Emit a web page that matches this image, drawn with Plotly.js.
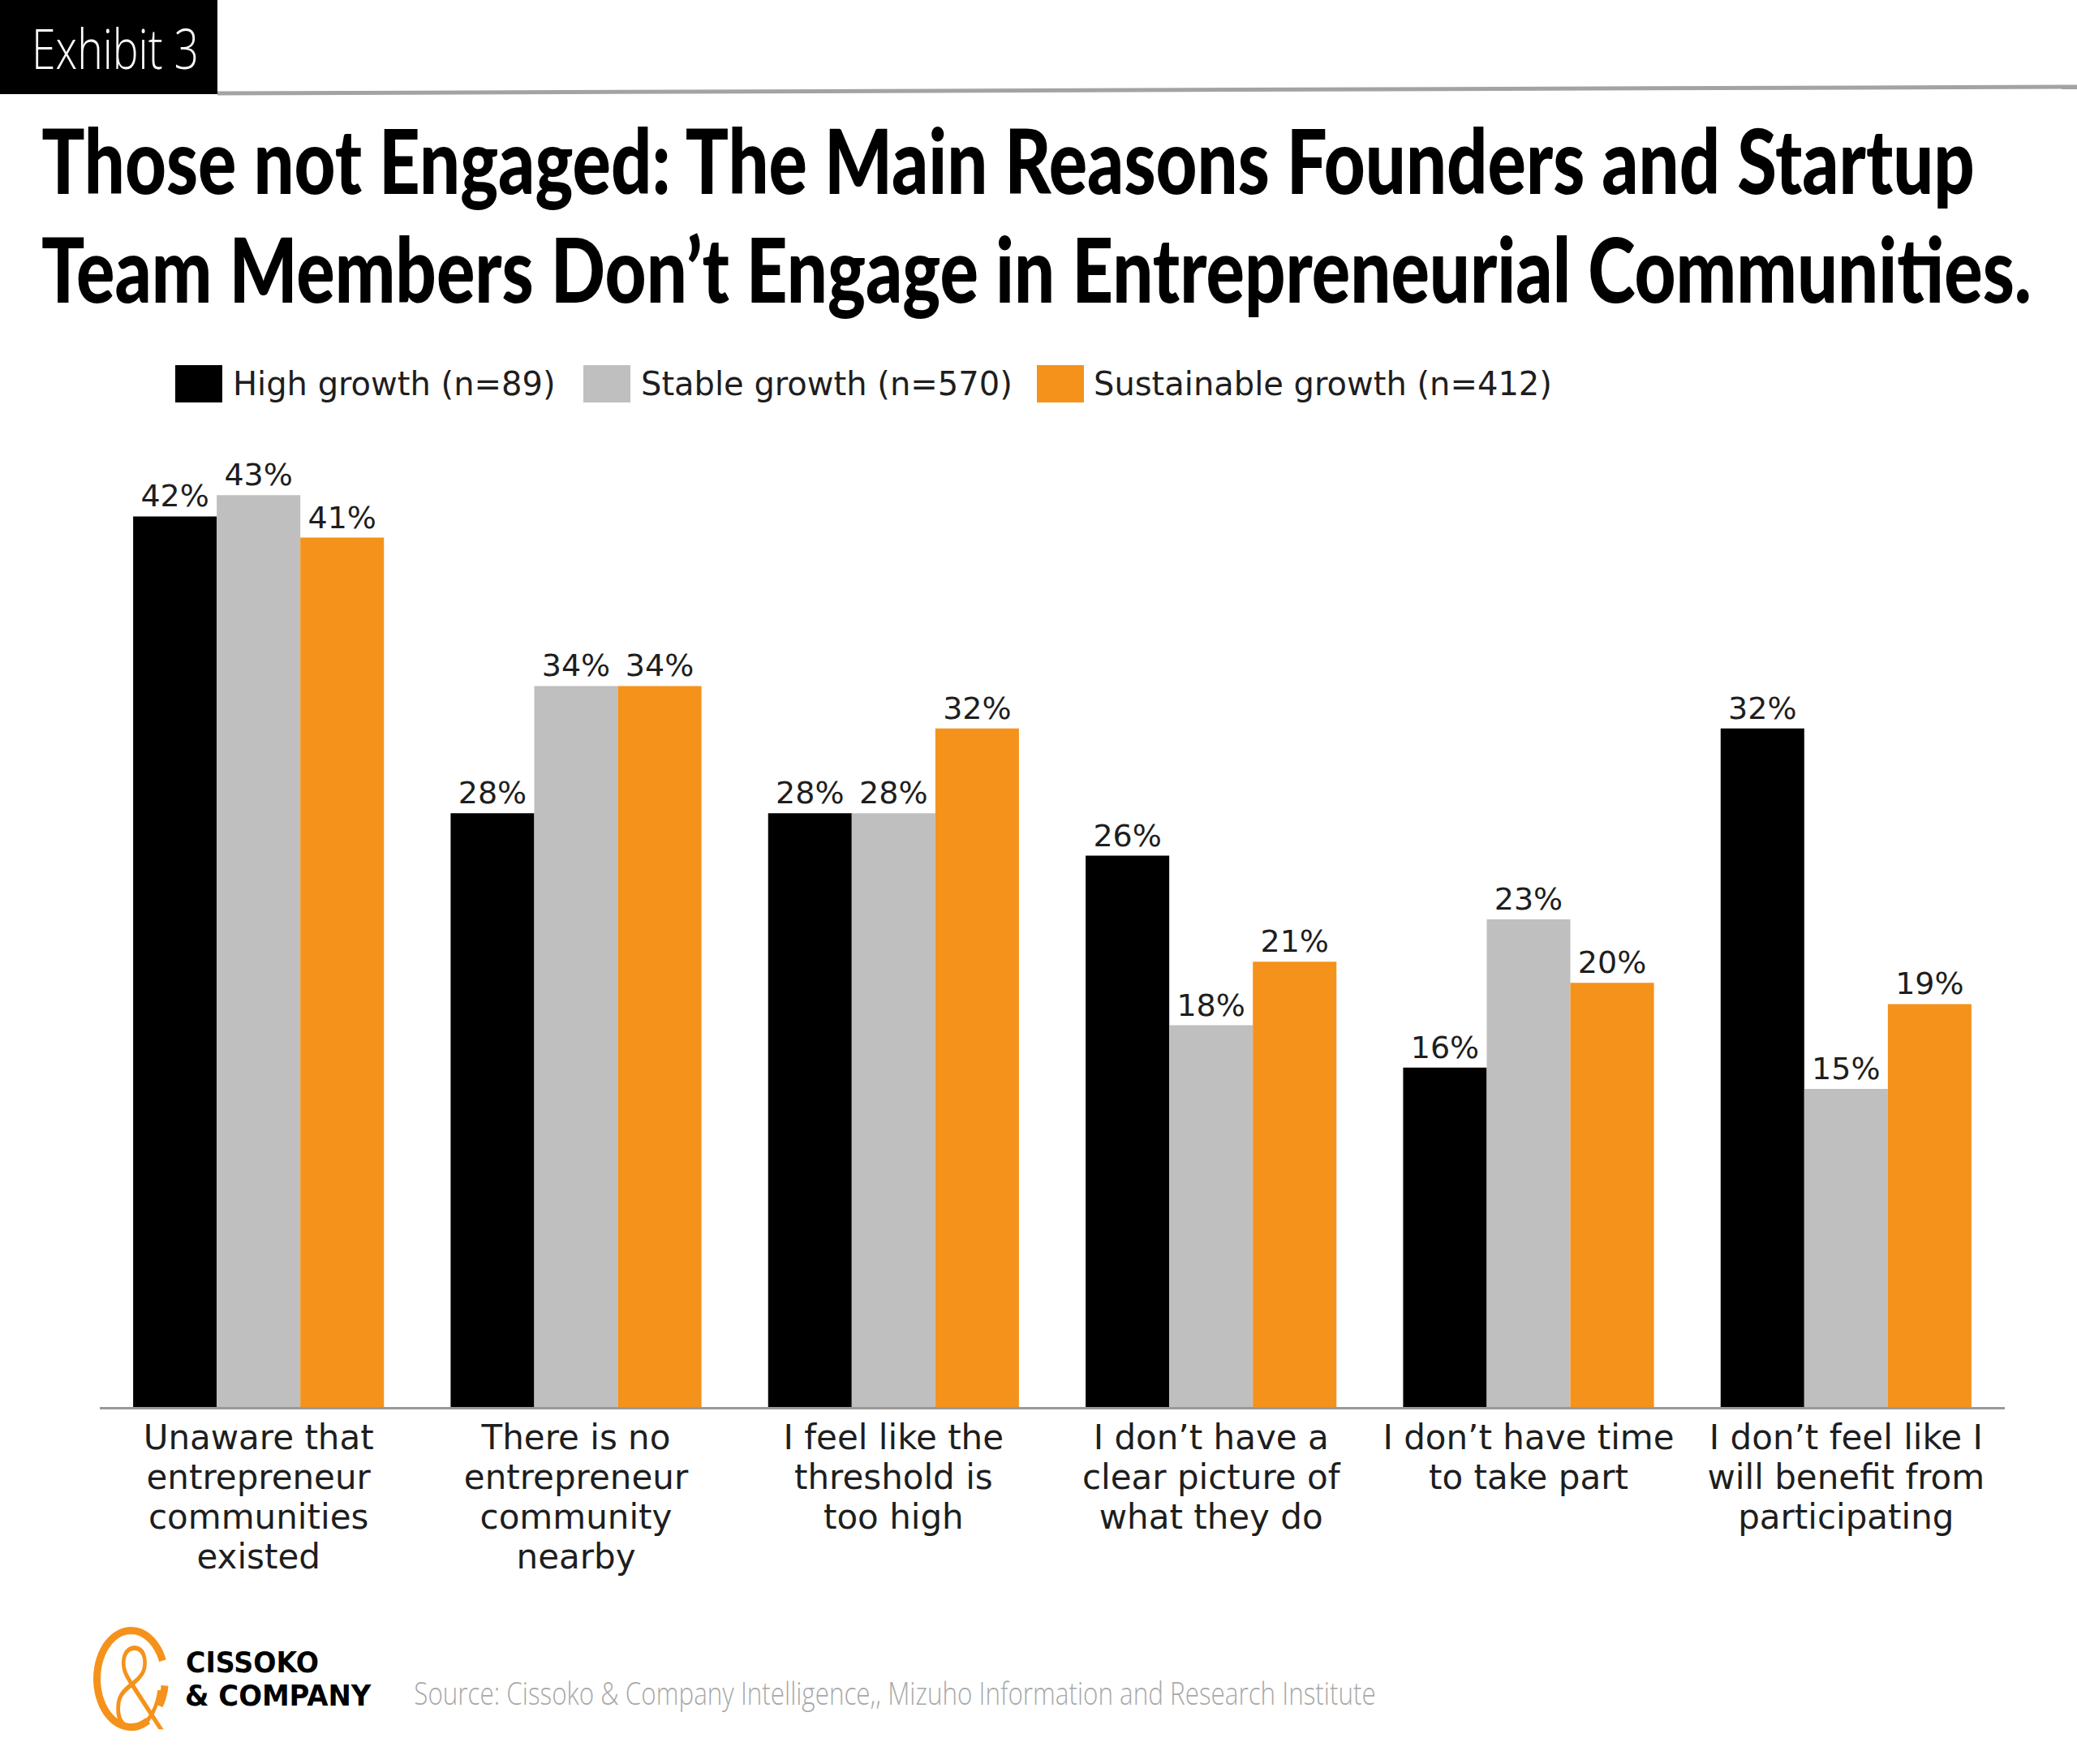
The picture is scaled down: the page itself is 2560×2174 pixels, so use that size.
<!DOCTYPE html>
<html>
<head>
<meta charset="utf-8">
<script src="https://cdn.plot.ly/plotly-3.0.1.min.js"></script>
<style>
  html, body { margin: 0; padding: 0; background: #ffffff; }
  #chart { width: 2560px; height: 2174px; }
</style>
</head>
<body>
<div id="chart"></div>
<script>
// ---------------- DATA ----------------
const categories = [
  "Unaware that<br>entrepreneur<br>communities<br>existed",
  "There is no<br>entrepreneur<br>community<br>nearby",
  "I feel like the<br>threshold is<br>too high",
  "I don’t have a<br>clear picture of<br>what they do",
  "I don’t have time<br>to take part",
  "I don’t feel like I<br>will benefit from<br>participating"
];
const seriesNames = ["High growth (n=89)", "Stable growth (n=570)", "Sustainable growth (n=412)"];
const highGrowth = [42, 28, 28, 26, 16, 32];
const stableGrowth = [43, 34, 28, 18, 23, 15];
const sustainableGrowth = [41, 34, 32, 21, 20, 19];
const titleLines = [
  "Those not Engaged: The Main Reasons Founders and Startup",
  "Team Members Don’t Engage in Entrepreneurial Communities."
];
const exhibitLabel = "Exhibit 3";
const sourceText = "Source: Cissoko & Company Intelligence,, Mizuho Information and Research Institute";
const brandLines = ["CISSOKO", "& COMPANY"];

// ---------------- STYLE / LAYOUT ----------------
const W = 2560, H = 2174;
const M = { l: 123, r: 89, t: 558, b: 440 };
const PW = W - M.l - M.r, PH = H - M.t - M.b;
const px = X => (X - M.l) / PW;          // page pixel -> paper x
const py = Y => (H - M.b - Y) / PH;      // page pixel -> paper y
const FONT = '"DejaVu Sans", Verdana, sans-serif';
const colors = ["#000000", "#bfbfbf", "#f5921b"];
const ORANGE = "#f5921b";
const TEXT = "#1e1e1e";

const seriesValues = [highGrowth, stableGrowth, sustainableGrowth];
const traces = seriesValues.map((vals, i) => ({
  type: "bar",
  name: seriesNames[i],
  x: categories,
  y: vals,
  marker: { color: colors[i], line: { width: 0 } },
  texttemplate: "%{y}%",
  textposition: "outside",
  constraintext: "none",
  cliponaxis: false,
  textfont: { family: FONT, size: 38, color: TEXT },
  showlegend: false,
  hoverinfo: "skip"
}));

const shapes = [];
const annotations = [];
const fits = [];
function addAnn(a, fitWidth, anchor) {
  annotations.push(Object.assign({ xref: "paper", yref: "paper", showarrow: false, borderpad: 0 }, a));
  if (fitWidth) fits.push({ i: annotations.length - 1, w: fitWidth, anchor: anchor || "left" });
}

// Exhibit box + separator
shapes.push({ type: "rect", xref: "paper", yref: "paper", x0: px(0), x1: px(268), y0: py(116), y1: py(0),
  fillcolor: "#000000", line: { width: 0 } });
shapes.push({ type: "line", xref: "paper", yref: "paper", x0: px(268), y0: py(115), x1: px(2560), y1: py(107),
  line: { color: "#a3a3a3", width: 5 } });
addAnn({ text: exhibitLabel, x: px(142), y: py(59), xanchor: "center", yanchor: "middle",
  font: { family: '"Open Sans", sans-serif', size: 68, weight: 300, color: "#ffffff" } }, 206, "center");

// Title
addAnn({ text: titleLines[0], x: px(50), y: py(196), xanchor: "left", yanchor: "middle",
  font: { family: 'Lato, "DejaVu Sans", sans-serif', size: 110, weight: 900, color: "#000000" } }, 2383, "left");
addAnn({ text: titleLines[1], x: px(50), y: py(330), xanchor: "left", yanchor: "middle",
  font: { family: 'Lato, "DejaVu Sans", sans-serif', size: 110, weight: 900, color: "#000000" } }, 2453, "left");

// Legend (large swatches)
const legendSwatchX = [216, 719, 1278];
const legendTextX = [286, 789, 1347];
seriesNames.forEach((name, i) => {
  shapes.push({ type: "rect", xref: "paper", yref: "paper",
    x0: px(legendSwatchX[i]), x1: px(legendSwatchX[i] + 58), y0: py(496), y1: py(450),
    fillcolor: colors[i], line: { width: 0 } });
  addAnn({ text: name, x: px(legendTextX[i]), y: py(473), xanchor: "left", yanchor: "middle",
    font: { family: FONT, size: 40, color: TEXT } });
});

// Source
addAnn({ text: sourceText, x: px(509), y: py(2085), xanchor: "left", yanchor: "middle",
  font: { family: '"Open Sans", sans-serif', size: 39, weight: 300, color: "#a8a8a8" } }, 1186, "left");

// Logo: orange ring + ampersand + brand name
function ringPath(cx, cy, rx, ry, t0, t1) {
  let d = "";
  const n = 48;
  for (let k = 0; k <= n; k++) {
    const t = (t0 + (t1 - t0) * k / n) * Math.PI / 180;
    const X = cx + rx * Math.cos(t), Y = cy - ry * Math.sin(t);
    d += (k === 0 ? "M" : "L") + px(X).toFixed(5) + "," + py(Y).toFixed(5);
  }
  return d;
}
shapes.push({ type: "path", xref: "paper", yref: "paper", path: ringPath(161.5, 2069, 42, 59.5, 22, 300),
  line: { color: ORANGE, width: 9 }, fillcolor: "rgba(0,0,0,0)" });
shapes.push({ type: "path", xref: "paper", yref: "paper", path: ringPath(161.5, 2069, 42, 59.5, 326, 352),
  line: { color: ORANGE, width: 9 }, fillcolor: "rgba(0,0,0,0)" });
addAnn({ text: "&", x: px(170), y: py(2077), xanchor: "center", yanchor: "middle",
  font: { family: '"Open Sans", sans-serif', size: 142, weight: 300, color: ORANGE } }, 66, "center");
addAnn({ text: brandLines[0], x: px(228), y: py(2049), xanchor: "left", yanchor: "middle",
  font: { family: FONT, size: 35, weight: 700, color: "#000000" } }, 164, "left");
addAnn({ text: brandLines[1], x: px(227), y: py(2090), xanchor: "left", yanchor: "middle",
  font: { family: FONT, size: 35, weight: 700, color: "#000000" } }, 230, "left");

const layout = {
  width: W, height: H,
  margin: { l: M.l, r: M.r, t: M.t, b: M.b, pad: 0 },
  paper_bgcolor: "#ffffff", plot_bgcolor: "#ffffff",
  barmode: "group", bargap: 0.21, bargroupgap: 0,
  showlegend: false,
  font: { family: FONT, color: TEXT },
  xaxis: {
    type: "category", showline: true, linecolor: "#999999", linewidth: 3,
    ticks: "", showgrid: false, zeroline: false, automargin: false,
    tickfont: { family: FONT, size: 42, color: TEXT },
    ticklabelstandoff: -1
  },
  yaxis: { range: [0, 45], visible: false, showgrid: false, zeroline: false, fixedrange: true },
  shapes: shapes,
  annotations: annotations
};

const LINE_EM = 49 / 42;
function tune(gd) {
  try {
    fits.forEach(f => {
      const t = gd.querySelector('g.annotation[data-index="' + f.i + '"] text.annotation-text');
      if (!t) return;
      const bb = t.getBBox();
      if (!bb.width) return;
      const s = f.w / bb.width;
      const pivot = f.anchor === "left" ? bb.x : bb.x + bb.width / 2;
      t.setAttribute("transform", "translate(" + pivot + ",0) scale(" + s + ",1) translate(" + (-pivot) + ",0)");
    });
    gd.querySelectorAll(".xtick text").forEach(t => {
      t.querySelectorAll("tspan.line").forEach((ts, i) => ts.setAttribute("dy", (i * LINE_EM) + "em"));
    });
  } catch (e) { console.log(e); }
}

const gd = document.getElementById("chart");
Plotly.newPlot(gd, traces, layout, { staticPlot: true, displayModeBar: false }).then(() => tune(gd));
</script>
</body>
</html>
